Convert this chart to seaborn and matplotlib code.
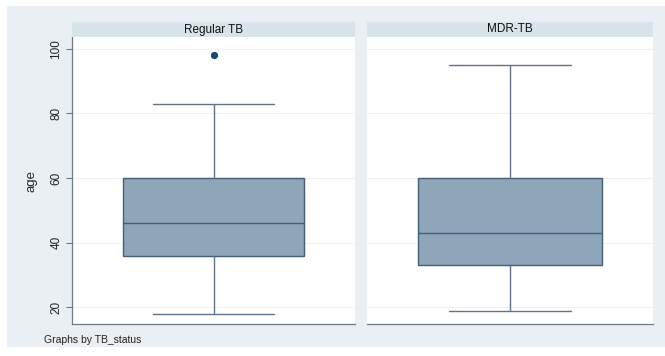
import matplotlib
matplotlib.use("Agg")
import matplotlib.pyplot as plt
from matplotlib.patches import Rectangle
import seaborn as sns
import pandas as pd

# ---- data (box-plot summary per group) ----
groups = ["Regular TB", "MDR-TB"]
whisker_low = [18, 19]
q1 = [36, 33]
median = [46, 43]
q3 = [60, 60]
whisker_high = [83, 95]
outliers = [[98], []]
y_ticks = [20, 40, 60, 80, 100]

# build sample values that reproduce those summaries
rows = []
for g, lo, a, m, b, hi, out in zip(groups, whisker_low, q1, median, q3, whisker_high, outliers):
    vals = [lo, a, a, m, m, b, b, hi] + (out if out else [hi])
    rows += [{"TB_status": g, "age": v} for v in vals]
df = pd.DataFrame(rows)

sns.set_style("white")
plt.rcParams["font.family"] = ["Liberation Sans", "DejaVu Sans"]

W, H = 665, 356
fig = plt.figure(figsize=(W / 100, H / 100), dpi=100, facecolor="white")
bg = "#e9eff2"
fig.patches.append(Rectangle((7 / W, 9 / H), 1 - 7 / W, (347 - 6) / H,
                             transform=fig.transFigure, facecolor=bg,
                             edgecolor="none", zorder=-5))

bottom = 1 - 324 / H
top = 1 - 37 / H
panels = [(72, 355), (367, 653)]
fill = "#8ea5ba"
edge = "#445e75"
line_c = "#5f7489"

axes = []
for i, (g, (x0, x1)) in enumerate(zip(groups, panels)):
    ax = fig.add_axes([x0 / W, bottom, (x1 - x0) / W, top - bottom])
    ax.set_facecolor("white")
    sub = df[df.TB_status == g]
    sns.boxplot(data=sub, y="age", ax=ax, width=0.64, color=fill,
                linecolor=line_c, linewidth=1.0, capwidths=0.43,
                boxprops=dict(facecolor=fill, edgecolor=edge),
                medianprops=dict(color=edge, linewidth=1.0),
                flierprops=dict(marker="o", markersize=4.2,
                                markerfacecolor="#1a476f",
                                markeredgecolor="#1a476f"))
    ax.set_xlim(-0.5, 0.5)
    ax.set_ylim(14.85, 103.6)
    ax.set_yticks(y_ticks)
    ax.yaxis.grid(True, color="#edf1f3", linewidth=0.8)
    ax.set_axisbelow(True)
    ax.set_xticks([])
    ax.set_xlabel("")
    for s in ["top", "right"]:
        ax.spines[s].set_visible(False)
    ax.spines["bottom"].set_color("#6f7a84")
    ax.spines["bottom"].set_linewidth(0.9)
    if i == 0:
        ax.spines["left"].set_color("#6f7a84")
        ax.spines["left"].set_linewidth(0.9)
        ax.tick_params(axis="y", left=True, length=4, width=0.8,
                       color="#6f7a84", labelsize=8.5, labelcolor="#222222",
                       pad=3)
        for lab in ax.get_yticklabels():
            lab.set_rotation(90)
            lab.set_va("center")
        ax.set_ylabel("age", fontsize=9.5, labelpad=9)
    else:
        ax.spines["left"].set_visible(False)
        ax.tick_params(axis="y", left=False, labelleft=False)
        ax.set_ylabel("")
    # strip header
    fig.patches.append(Rectangle((x0 / W, top), (x1 - x0) / W, 15.3 / H,
                                 transform=fig.transFigure,
                                 facecolor="#d8e3ea", edgecolor="none"))
    fig.text((x0 + x1) / 2 / W, top + 7.5 / H, g, ha="center", va="center",
             fontsize=8.5, color="#111111")
    axes.append(ax)

fig.text(44 / W, 1 - 340 / H, "Graphs by TB_status", ha="left",
         va="center", fontsize=7.5, color="#222222")

fig.savefig("out.png", dpi=100, facecolor="white")
